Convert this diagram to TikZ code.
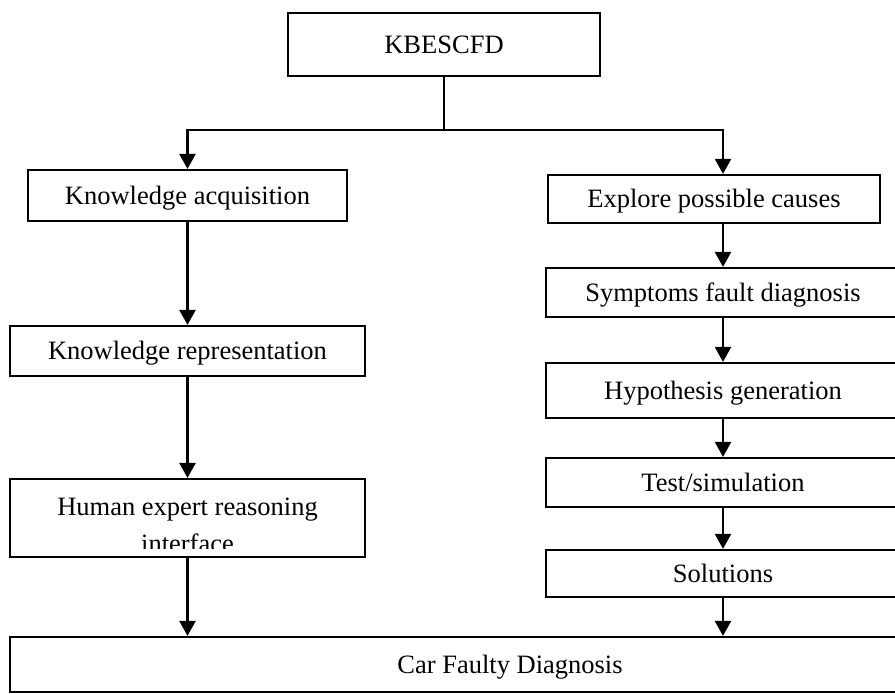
\documentclass[tikz,border=0pt]{standalone}
\usepackage{fontspec}
\setmainfont{Liberation Serif}
\usetikzlibrary{arrows.meta}
\begin{document}
\begin{tikzpicture}[x=1pt,y=-1pt,
  box/.style={draw,line width=2.2pt,inner sep=0pt,text height=17.5pt,text depth=0pt,
              font=\fontsize{26.5}{30}\selectfont},
  label/.style={inner sep=0pt,font=\fontsize{26.5}{30}\selectfont},
  wire/.style={line width=2.4pt},
  link/.style={wire,-{Triangle[length=15pt,width=16pt]}}]
\useasboundingbox (0,0) rectangle (895,694);

% root
\node[box,minimum width=312pt,minimum height=63pt] (top) at (444,44.5) {KBESCFD};

% left column
\node[box,minimum width=319pt,minimum height=51pt] (acq) at (187.5,195.5) {Knowledge acquisition};
\node[box,minimum width=355pt,minimum height=50pt] (rep) at (187.5,351) {Knowledge representation};
\node[box,minimum width=355pt,minimum height=78pt] (hum) at (187.5,518) {};
\node[label,anchor=base] (hum1) at (187.5,515) {Human expert reasoning};
\begin{scope}
  \clip (12,481) rectangle (363,548);
  \node[label,anchor=base] (hum2) at (187.5,552) {interface};
\end{scope}

% right column
\node[box,minimum width=332pt,minimum height=48pt] (exp) at (714,199) {Explore possible causes};
\node[box,minimum width=354pt,minimum height=49pt] (sym) at (723,292.5) {Symptoms fault diagnosis};
\node[box,minimum width=354pt,minimum height=55pt] (hyp) at (723,390.5) {Hypothesis generation};
\node[box,minimum width=354pt,minimum height=49pt] (tst) at (723,482.5) {Test/simulation};
\node[box,minimum width=354pt,minimum height=47pt] (sol) at (723,573.5) {Solutions};

% common result
\node[box,minimum width=1000pt,minimum height=55pt] (car) at (510,664.5) {Car Faulty Diagnosis};

% connectors
\coordinate (split) at (444,130);
\draw[wire] (top.south) -- (split);
\draw[link] (split) -| (acq.north);
\draw[link] (split) -| (exp.north -| sym.north);

\draw[link] (acq.south) -- (rep.north);
\draw[link] (rep.south) -- (hum.north);
\draw[link] (hum.south) -- (hum.south |- car.north);

\draw[link] (exp.south -| sym.north) -- (sym.north);
\draw[link] (sym.south) -- (hyp.north);
\draw[link] (hyp.south) -- (tst.north);
\draw[link] (tst.south) -- (sol.north);
\draw[link] (sol.south) -- (sol.south |- car.north);
\end{tikzpicture}
\end{document}
